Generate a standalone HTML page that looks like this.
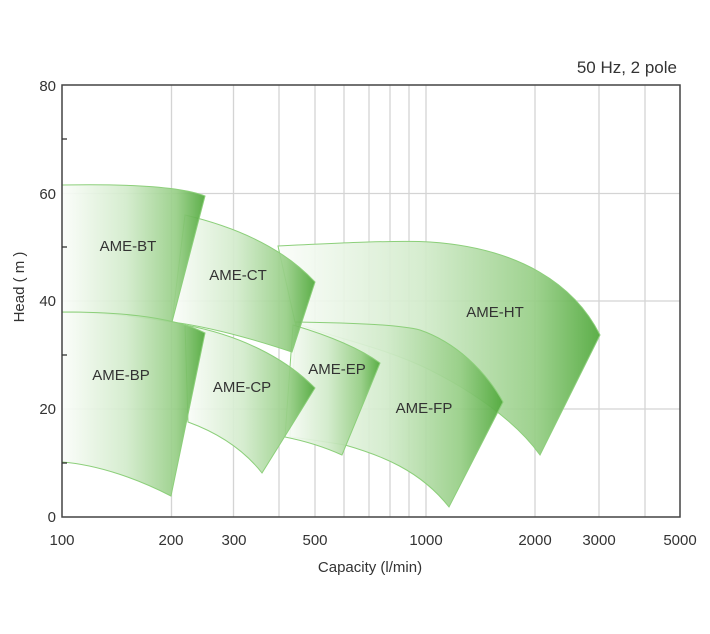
<!DOCTYPE html>
<html><head><style>body{margin:0;background:#fff}svg{display:block}text{font-family:"Liberation Sans",sans-serif;fill:#333}</style></head><body>
<svg width="710" height="634" viewBox="0 0 710 634">
<defs>
<linearGradient id="g" x1="0" y1="0" x2="1" y2="0"><stop offset="0" stop-color="#fbfdfa"/><stop offset="0.45" stop-color="#d2ebcb"/><stop offset="0.8" stop-color="#96ce85"/><stop offset="1" stop-color="#4fa83a"/></linearGradient>
</defs>
<g stroke="#d4d4d4" stroke-width="1.3">
<line x1="171.5" y1="85" x2="171.5" y2="517"/><line x1="233.5" y1="85" x2="233.5" y2="517"/><line x1="279" y1="85" x2="279" y2="517"/><line x1="315" y1="85" x2="315" y2="517"/><line x1="344" y1="85" x2="344" y2="517"/><line x1="369" y1="85" x2="369" y2="517"/><line x1="390" y1="85" x2="390" y2="517"/><line x1="409" y1="85" x2="409" y2="517"/><line x1="426" y1="85" x2="426" y2="517"/><line x1="535" y1="85" x2="535" y2="517"/><line x1="599" y1="85" x2="599" y2="517"/><line x1="645" y1="85" x2="645" y2="517"/>
<line x1="62" y1="193.5" x2="680" y2="193.5"/><line x1="62" y1="301" x2="680" y2="301"/><line x1="62" y1="409" x2="680" y2="409"/>
</g>
<g fill="url(#g)" stroke="#8ccf7a" stroke-width="1" fill-opacity="0.92">
<path d="M278,246 C340,243 400,240 430,242 C520,248 575,285 600,335 L540,455 C515,420 470,390 430,370 C380,345 320,335 295,322 Z"/>
<path d="M296,322 C360,323 400,325 420,330 C455,342 485,370 503,402 L449,507 C420,470 380,455 345,445 C320,441 300,438 290,437 Z"/>
<path d="M293,325 C320,333 355,345 380,363 L342,455 C320,445 300,440 285,437 Z"/>
<path d="M185,215 C240,228 285,250 315,282 L292,352 C250,338 210,327 172,322 Z"/>
<path d="M62,185 C120,184 180,186 205,196 L172,322 C130,315 90,312 62,312 Z"/>
<path d="M185,325 C240,335 285,358 315,388 L262,473 C240,445 210,430 188,422 Z"/>
<path d="M62,312 C110,312 170,315 205,333 L171,496 C140,480 100,465 62,462 Z"/>
</g>
<g stroke="#444" stroke-width="1.5" fill="none"><path d="M62,85 L680,85 L680,517 L62,517 Z"/></g>
<g stroke="#333" stroke-width="1.3"><line x1="62" y1="139" x2="67" y2="139"/><line x1="62" y1="247" x2="67" y2="247"/><line x1="62" y1="355" x2="67" y2="355"/><line x1="62" y1="463" x2="67" y2="463"/></g>
<g font-size="15" text-anchor="end"><text x="56" y="91">80</text><text x="56" y="199">60</text><text x="56" y="306">40</text><text x="56" y="414">20</text><text x="56" y="522">0</text></g>
<g font-size="15" text-anchor="middle"><text x="62" y="545">100</text><text x="171" y="545">200</text><text x="234" y="545">300</text><text x="315" y="545">500</text><text x="426" y="545">1000</text><text x="535" y="545">2000</text><text x="599" y="545">3000</text><text x="680" y="545">5000</text></g>
<text x="370" y="572" font-size="15" text-anchor="middle">Capacity (l/min)</text>
<text transform="translate(24,287) rotate(-90)" font-size="15" text-anchor="middle">Head ( m )</text>
<text x="677" y="73" font-size="17" text-anchor="end">50 Hz, 2 pole</text>
<g font-size="15" text-anchor="middle"><text x="128" y="251">AME-BT</text><text x="238" y="280">AME-CT</text><text x="495" y="317">AME-HT</text><text x="121" y="380">AME-BP</text><text x="242" y="392">AME-CP</text><text x="337" y="374">AME-EP</text><text x="424" y="413">AME-FP</text></g>
</svg>
</body></html>
